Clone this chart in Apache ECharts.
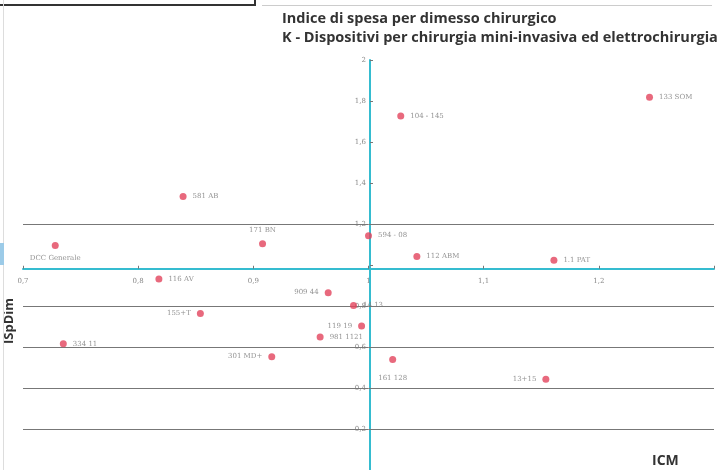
<!DOCTYPE html>
<html>
<head>
<meta charset="utf-8">
<script src="https://cdn.jsdelivr.net/npm/echarts@6/dist/echarts.min.js"></script>
<style>
html,body{margin:0;padding:0;background:#fff;}
#c{width:717px;height:470px;}
#box{position:absolute;left:0;top:0;width:254px;height:4px;border-right:2px solid #333;border-bottom:2px solid #333;}
#topline{position:absolute;left:262px;top:5px;width:450px;height:1px;background:#ccc;}
#leftline{position:absolute;left:3px;top:0;width:1px;height:470px;background:#ddd;}
#tab{position:absolute;left:0;top:243px;width:4px;height:22px;background:#9ccbe8;}
</style>
</head>
<body>
<div id="c"></div>
<div id="box"></div><div id="topline"></div><div id="leftline"></div><div id="tab"></div>
<script>
// Data
const names = ["133 SOM","104 - 145","581 AB","171 BN","DCC Generale","594 - 08","112 ABM","1.1 PAT","116 AV","909 44","14 13","155+T","119 19","981 1121","334 11","301 MD+","161 128","13+15"];
const icm = [1.244,1.028,0.839,0.908,0.728,1.000,1.042,1.161,0.818,0.965,0.987,0.854,0.994,0.958,0.735,0.916,1.021,1.154];
const ispdim = [1.818,1.727,1.334,1.104,1.095,1.143,1.042,1.023,0.932,0.865,0.802,0.764,0.702,0.649,0.616,0.553,0.539,0.443];
const labelPos = ["right","right","right","top","bottom","right","right","right","right","left","right","left","left","right","right","left","bottom","left"];
const gridLevels = [1.2,0.8,0.6,0.4,0.2];
const xTicks = [0.7,0.8,0.9,1,1.1,1.2];
const yTicks = [0.2,0.4,0.6,0.8,1.2,1.4,1.6,1.8,2];

const chart = echarts.init(document.getElementById('c'));
const pts = icm.map((x,i)=>({value:[x,ispdim[i]],label:{position:labelPos[i],distance:labelPos[i]==='bottom'&&i===16?12:6}}));
const fmt = v => String(Math.round(v*10)/10).replace('.',',');
chart.setOption({
  animation:false,
  title:{
    text:'Indice di spesa per dimesso chirurgico\nK - Dispositivi per chirurgia mini-invasiva ed elettrochirurgia',
    left:282, top:9, padding:0,
    textStyle:{fontFamily:'Open Sans',fontWeight:'bold',fontSize:14.5,color:'#333',lineHeight:19}
  },
  grid:{left:23,right:0,top:60,bottom:-7.5},
  xAxis:{type:'value',min:0.7,max:1.3,interval:0.1,offset:-208.75,
    axisLine:{lineStyle:{color:'#35bcd0',width:2}},
    axisTick:{show:true,length:3,inside:true,lineStyle:{color:'#777'}},
    axisLabel:{fontSize:7,color:'#888',fontFamily:'DejaVu Serif',margin:16,
      formatter:v=> xTicks.some(t=>Math.abs(t-v)<1e-6)?fmt(v):''},
    splitLine:{show:false}},
  yAxis:{type:'value',min:0,max:2,interval:0.2,offset:-347,
    axisLine:{lineStyle:{color:'#35bcd0',width:2}},
    axisTick:{show:true,length:3,inside:true,lineStyle:{color:'#777'}},
    axisLabel:{fontSize:7,color:'#888',fontFamily:'DejaVu Serif',margin:4,
      formatter:v=> yTicks.some(t=>Math.abs(t-v)<1e-6)?fmt(v):''},
    splitLine:{show:false}},
  graphic:[
    {type:'text',left:3,top:298,rotation:Math.PI/2,
      style:{text:'ISpDim',font:'bold 13px "Open Sans"',fill:'#333'}},
    {type:'text',left:652,top:454,
      style:{text:'ICM',font:'bold 14px "Open Sans"',fill:'#333'}}
  ],
  series:[{
    type:'scatter',symbolSize:7,
    itemStyle:{color:'#e2435c'},
    data:pts,
    label:{show:true,formatter:p=>names[p.dataIndex],fontSize:7,color:'#777',fontFamily:'DejaVu Serif'},
    markLine:{silent:true,symbol:'none',animation:false,label:{show:false},
      lineStyle:{color:'#777',width:1,type:'solid'},
      data:gridLevels.map(v=>({yAxis:v}))},
    z:5
  }]
});
</script>
</body>
</html>
